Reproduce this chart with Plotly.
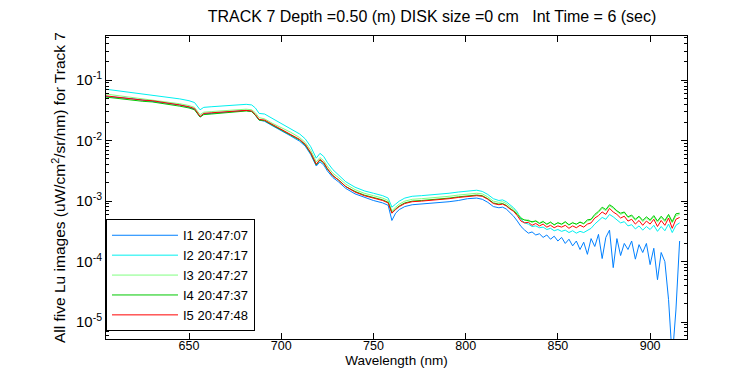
import plotly.graph_objects as go

# Wavelength grid (nm)
wl = [605, 610, 615, 620, 625, 630, 635, 640, 645, 650, 653, 656, 658, 662, 667, 672, 677, 681, 684, 686,
      688, 691, 695, 700, 705, 710, 713, 716, 719, 721, 723, 725, 728, 731, 735, 740, 745, 750, 755, 758,
      760, 762, 764, 767, 771, 776, 781, 786, 791, 796, 801, 806, 809, 812, 815, 818, 820, 822, 824, 826, 828,
      830, 832, 834, 836, 838, 840, 842, 844, 846, 848, 850, 852, 854, 856, 858, 860, 862, 864, 866, 868,
      870, 872, 874, 876, 878, 880, 882, 884, 886, 888, 890, 892, 894, 896, 898, 900, 902, 904, 906, 908,
      910, 912, 914, 916]

# log10 of Lu (uW/cm^2/sr/nm)
log_I1 = [-1.27, -1.28, -1.30, -1.31, -1.33, -1.35, -1.37, -1.39, -1.41, -1.45, -1.48, -1.61, -1.56, -1.55, -1.54, -1.53, -1.51, -1.50, -1.52, -1.58,
          -1.66, -1.68, -1.75, -1.83, -1.92, -2.01, -2.09, -2.23, -2.42, -2.35, -2.40, -2.50, -2.61, -2.68, -2.79, -2.88, -2.94, -2.99, -3.03, -3.07,
          -3.32, -3.20, -3.14, -3.09, -3.06, -3.05, -3.04, -3.03, -3.01, -2.99, -2.96, -2.95, -2.97, -3.02, -3.09, -3.11, -3.10, -3.13, -3.19, -3.25, -3.33,
          -3.42, -3.48, -3.53, -3.51, -3.56, -3.54, -3.60, -3.56, -3.63, -3.58, -3.66, -3.60, -3.70, -3.63, -3.74, -3.66, -3.80, -3.68, -3.88, -3.62,
          -3.75, -3.55, -3.95, -3.60, -3.48, -4.10, -3.62, -3.90, -3.70, -3.80, -3.66, -3.96, -3.72, -3.85, -3.70, -4.05, -3.78, -4.30, -3.85, -4.00,
          -4.63, -5.60, -4.80, -3.66]

log_I2 = [-1.15, -1.17, -1.19, -1.21, -1.23, -1.24, -1.26, -1.29, -1.31, -1.34, -1.37, -1.49, -1.45, -1.44, -1.43, -1.42, -1.41, -1.40, -1.41, -1.46,
          -1.55, -1.56, -1.63, -1.72, -1.80, -1.89, -1.97, -2.10, -2.29, -2.21, -2.26, -2.36, -2.48, -2.56, -2.68, -2.77, -2.83, -2.87, -2.91, -2.95,
          -3.10, -3.05, -3.00, -2.95, -2.92, -2.91, -2.90, -2.89, -2.87, -2.85, -2.83, -2.82, -2.84, -2.89, -2.96, -2.99, -2.98, -3.01, -3.06, -3.11, -3.18,
          -3.30, -3.36, -3.38, -3.42, -3.41, -3.44, -3.43, -3.47, -3.45, -3.49, -3.47, -3.50, -3.48, -3.52, -3.49, -3.53, -3.50, -3.52, -3.48, -3.45,
          -3.38, -3.33, -3.27, -3.30, -3.22, -3.26, -3.31, -3.36, -3.34, -3.41, -3.39, -3.46, -3.41, -3.48, -3.42, -3.47, -3.40, -3.50, -3.42, -3.49,
          -3.38, -3.52, -3.40, -3.36]

log_I3 = [-1.23, -1.25, -1.27, -1.29, -1.31, -1.32, -1.34, -1.37, -1.39, -1.42, -1.45, -1.57, -1.53, -1.52, -1.51, -1.50, -1.49, -1.48, -1.49, -1.54,
          -1.62, -1.64, -1.71, -1.78, -1.86, -1.95, -2.03, -2.16, -2.35, -2.28, -2.33, -2.42, -2.54, -2.61, -2.72, -2.81, -2.87, -2.91, -2.95, -2.99,
          -3.16, -3.10, -3.05, -3.00, -2.97, -2.96, -2.95, -2.94, -2.92, -2.90, -2.88, -2.87, -2.88, -2.93, -3.00, -3.02, -3.01, -3.04, -3.09, -3.13, -3.20,
          -3.27, -3.32, -3.31, -3.36, -3.32, -3.36, -3.33, -3.39, -3.34, -3.40, -3.35, -3.39, -3.35, -3.40, -3.35, -3.39, -3.34, -3.38, -3.33, -3.31,
          -3.24, -3.19, -3.12, -3.16, -3.08, -3.12, -3.17, -3.22, -3.19, -3.27, -3.25, -3.32, -3.26, -3.34, -3.28, -3.33, -3.26, -3.35, -3.27, -3.34,
          -3.24, -3.36, -3.24, -3.22]

log_I4 = [-1.28, -1.30, -1.31, -1.33, -1.35, -1.36, -1.38, -1.41, -1.43, -1.46, -1.49, -1.61, -1.57, -1.56, -1.55, -1.54, -1.52, -1.51, -1.52, -1.58,
          -1.66, -1.67, -1.74, -1.82, -1.90, -1.99, -2.07, -2.21, -2.40, -2.32, -2.37, -2.47, -2.58, -2.65, -2.76, -2.84, -2.90, -2.94, -2.98, -3.02,
          -3.19, -3.13, -3.08, -3.03, -3.00, -2.99, -2.98, -2.97, -2.95, -2.93, -2.91, -2.90, -2.91, -2.96, -3.03, -3.05, -3.04, -3.07, -3.12, -3.16, -3.22,
          -3.29, -3.31, -3.33, -3.34, -3.33, -3.37, -3.34, -3.38, -3.35, -3.39, -3.36, -3.38, -3.34, -3.39, -3.36, -3.38, -3.35, -3.37, -3.31, -3.30,
          -3.22, -3.17, -3.10, -3.14, -3.06, -3.10, -3.16, -3.20, -3.18, -3.26, -3.23, -3.30, -3.25, -3.32, -3.26, -3.31, -3.24, -3.33, -3.25, -3.32,
          -3.22, -3.34, -3.21, -3.20]

log_I5 = [-1.26, -1.28, -1.29, -1.31, -1.33, -1.34, -1.36, -1.39, -1.41, -1.44, -1.47, -1.60, -1.55, -1.54, -1.53, -1.52, -1.51, -1.50, -1.51, -1.57,
          -1.65, -1.66, -1.73, -1.81, -1.89, -1.98, -2.06, -2.20, -2.39, -2.31, -2.36, -2.46, -2.58, -2.65, -2.76, -2.85, -2.91, -2.95, -2.99, -3.03,
          -3.20, -3.14, -3.09, -3.04, -3.01, -3.00, -2.99, -2.98, -2.96, -2.94, -2.92, -2.91, -2.92, -2.97, -3.04, -3.06, -3.05, -3.08, -3.13, -3.17, -3.24,
          -3.33, -3.36, -3.35, -3.40, -3.37, -3.41, -3.38, -3.43, -3.40, -3.44, -3.41, -3.43, -3.40, -3.45, -3.41, -3.44, -3.40, -3.43, -3.38, -3.36,
          -3.28, -3.24, -3.18, -3.22, -3.12, -3.18, -3.22, -3.28, -3.25, -3.33, -3.30, -3.38, -3.32, -3.40, -3.33, -3.38, -3.30, -3.42, -3.32, -3.40,
          -3.28, -3.45, -3.30, -3.27]

series_names = ["I1 20:47:07", "I2 20:47:17", "I3 20:47:27", "I4 20:47:37", "I5 20:47:48"]
series_logs = [log_I1, log_I2, log_I3, log_I4, log_I5]
series_colors = ["#0080ff", "#00f0f0", "#80ff80", "#00c800", "#ff0000"]

x_ticks = [650, 700, 750, 800, 850, 900]
y_ticks = [1e-5, 1e-4, 1e-3, 1e-2, 1e-1]
y_ticktext = ["10<sup>-5</sup>", "10<sup>-4</sup>", "10<sup>-3</sup>", "10<sup>-2</sup>", "10<sup>-1</sup>"]

FONT = "Arial, Liberation Sans, sans-serif"

fig = go.Figure()
for name, lg, col in zip(series_names, series_logs, series_colors):
    fig.add_trace(go.Scatter(x=wl, y=[10 ** v for v in lg], mode="lines", name=name,
                             line=dict(color=col, width=1)))

minor_vals = []
for e in range(-6, 0):
    for m in range(2, 10):
        minor_vals.append(m * 10 ** e)

fig.update_layout(
    width=750, height=375,
    paper_bgcolor="white", plot_bgcolor="white",
    margin=dict(l=98, r=71, t=28, b=44),
    font=dict(family=FONT, size=13, color="black"),
    title=dict(text="TRACK 7 Depth =0.50 (m) DISK size =0 cm\u00a0\u00a0 Int Time = 6 (sec)",
               x=424 / 750, xanchor="center", y=1 - 3 / 375, yanchor="top",
               font=dict(family=FONT, size=16, color="black")),
    showlegend=True,
    legend=dict(x=0.0, y=0.395, xanchor="left", yanchor="top",
                bgcolor="white", bordercolor="black", borderwidth=1,
                font=dict(family=FONT, size=13, color="black"),
                tracegroupgap=0, itemwidth=66),
)

fig.update_xaxes(range=[605, 920], tickvals=x_ticks, ticks="inside", ticklen=6, tickcolor="black",
                 showline=True, linecolor="black", linewidth=1, mirror="allticks",
                 showgrid=False, zeroline=False, ticklabelstandoff=-5,
                 tickfont=dict(family=FONT, size=12.5, color="black"),
                 title=dict(text="Wavelength (nm)", font=dict(family=FONT, size=13.5, color="black"), standoff=0))

fig.update_yaxes(type="log", range=[-5.28, -0.27], tickvals=y_ticks, ticktext=y_ticktext,
                 ticks="inside", ticklen=6, tickcolor="black",
                 showline=True, linecolor="black", linewidth=1, mirror="allticks",
                 showgrid=False, zeroline=False,
                 minor=dict(tickvals=minor_vals, ticks="inside", ticklen=3, tickcolor="black", showgrid=False),
                 tickfont=dict(family=FONT, size=15, color="black"),
                 title=dict(text="All five Lu images (uW/cm<sup>2</sup>/sr/nm) for Track 7",
                            font=dict(family=FONT, size=15.5, color="black"), standoff=6))

fig.write_html("out.html")
